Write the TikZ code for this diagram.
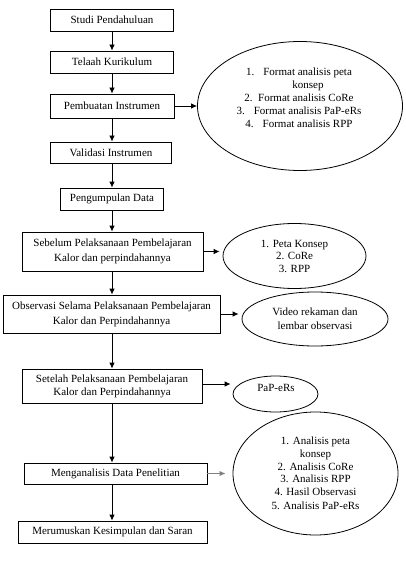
\documentclass[tikz,border=0pt]{standalone}
\usepackage{fontspec}
\setmainfont{Liberation Serif}
\usetikzlibrary{shapes.geometric,arrows.meta}

\begin{document}
\begin{tikzpicture}[x=1pt, y=-1pt, line width=0.8pt,
                    font=\fontsize{11}{13}\selectfont,
                    box/.style={rectangle,draw,align=center,inner sep=0pt},
                    oval/.style={ellipse,draw,align=center,inner sep=0pt},
                    list/.style={align=center,inner sep=0pt},
                    arr/.style={-{Latex[length=6pt,width=5.5pt]}}]
  \useasboundingbox (0,0) rectangle (405,572);

  % main flow
  \node[box,minimum width=123,minimum height=22] (1) at (112,20) {Studi Pendahuluan};
  \node[box,minimum width=123,minimum height=22] (2) at (112,62) {Telaah Kurikulum};
  \node[box,minimum width=124,minimum height=24] (3) at (112,106) {Pembuatan Instrumen};
  \node[box,minimum width=121,minimum height=21] (4) at (111,152.5) {Validasi Instrumen};
  \node[box,minimum width=103,minimum height=22] (5) at (112,199) {Pengumpulan Data};
  \node[box,minimum width=181,minimum height=39,font=\fontsize{11}{15}\selectfont] (6) at (112.5,251.5)
       {Sebelum Pelaksanaan Pembelajaran\\Kalor dan perpindahannya};
  \node[box,minimum width=217,minimum height=38,font=\fontsize{11}{15}\selectfont] (7) at (111.5,314)
       {Observasi Selama Pelaksanaan Pembelajaran\\Kalor dan Perpindahannya};
  \node[box,minimum width=180,minimum height=34,font=\fontsize{11}{13}\selectfont] (8) at (112,386)
       {Setelah Pelaksanaan Pembelajaran\\Kalor dan Perpindahannya};
  \node[box,minimum width=183,minimum height=21] (9) at (115.5,473.5) {Menganalisis Data Penelitian};
  \node[box,minimum width=189,minimum height=22] (10) at (112.5,532) {Merumuskan Kesimpulan dan Saran};

  % outputs
  \node[oval,minimum width=205,minimum height=129] (o1) at (300,106) {};
  \node[list] (l1) at (299,97.5)
       {1.\hspace{9pt}Format analisis peta\\ \hspace{18pt}konsep\\2.\ \ Format analisis CoRe\\
        3.\hspace{9pt}Format analisis PaP-eRs\\4.\hspace{9pt}Format analisis RPP};
  \node[oval,minimum width=143,minimum height=65,font=\fontsize{11}{12.5}\selectfont] (o2) at (294.5,256)
       {1. Peta Konsep\\2. CoRe\\3. RPP};
  \node[oval,minimum width=146,minimum height=54,font=\fontsize{11}{14}\selectfont] (o3) at (315,319)
       {Video rekaman dan\\lembar observasi};
  \node[oval,minimum width=85,minimum height=36] (o4) at (275.5,394) {};
  \node[list] (l4) at (276,388) {PaP-eRs};
  \node[oval,minimum width=165,minimum height=123,font=\fontsize{11}{12.6}\selectfont] (o5) at (315.5,473.5)
       {1. Analisis peta\\konsep\\2. Analisis CoRe\\3. Analisis RPP\\4. Hasil Observasi\\[1.5pt]5. Analisis PaP-eRs};

  \path[arr]
    (1.south) edge (1.south |- 2.north)
    (2.south) edge (2.south |- 3.north)
    (3.south) edge (3.south |- 4.north)
    (4.south -| 5.south) edge (5.north)
    (5.south) edge (5.south |- 6.north)
    (6.south -| 5.south) edge (5.south |- 7.north)
    (7.south -| 5.south) edge (5.south |- 8.north)
    (8.south) edge (8.south |- 9.north)
    (9.south -| 8.south) edge (8.south |- 10.north);

  \path[arr]
    (3.east) edge (3.east -| o1.west)
    (6.east) edge ([xshift=-3pt]6.east -| o2.west)
    (7.east) edge ([xshift=-3pt]7.east -| o3.west)
    ([yshift=2pt]8.east) edge ([xshift=-2pt,yshift=2pt]8.east -| o4.west);
  \draw[arr,gray,line width=1.3pt] (9.east) -- ([xshift=-7pt]9.east -| o5.west);
\end{tikzpicture}
\end{document}
